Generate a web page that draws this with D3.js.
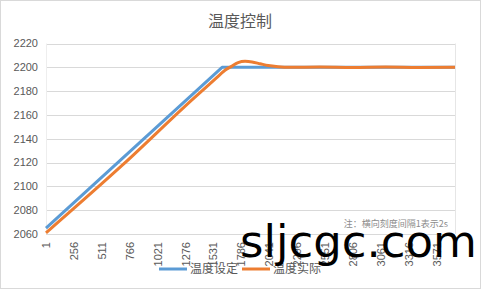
<!DOCTYPE html>
<html>
<head>
<meta charset="utf-8">
<script src="https://cdn.jsdelivr.net/npm/d3@7"></script>
<style>
  body { margin: 0; background: #fff; }
  svg text { font-family: "Liberation Sans", Arial, sans-serif; }
  .cjk { font-family: "Noto Sans CJK SC", sans-serif; }
</style>
</head>
<body>
<div id="chart"></div>
<script>
// ---------------------------------------------
// data
// ---------------------------------------------
let title = "温度控制",
    seriesNames = ["温度设定", "温度实际"],
    note = "注：横向刻度间隔1表示2s",
    watermark = "sljcgc.com";

let nPoints = 3734;
let xTicks = [1, 256, 511, 766, 1021, 1276, 1531, 1786, 2041, 2296, 2551, 2806, 3061, 3316, 3571];
let yTicks = [2060, 2080, 2100, 2120, 2140, 2160, 2180, 2200, 2220];

// set point (blue)
let setIdx = [1, 1608, 3734];
let setVal = [2065, 2200, 2200];

// actual (orange)
let actIdx = [1, 700, 1361, 1544, 1635, 1699, 1754, 1818, 1882, 1955, 2028, 2119, 2229, 2500, 2800, 3100, 3400, 3734];
let actVal = [2061, 2118, 2175, 2190, 2197.5, 2201, 2204, 2205, 2204.5, 2203, 2201.5, 2200.5, 2200, 2200.2, 2199.9, 2200.2, 2199.9, 2200];

// ---------------------------------------------
// layout
// ---------------------------------------------
let width = 481, height = 289;
let plot = {left: 46, right: 455, top: 43.5, bottom: 234};
let colors = ["#5B9BD5", "#ED7D31"];

let svg = d3.select("#chart").append("svg")
    .attr("width", width)
    .attr("height", height);

// outer border
svg.append("rect")
    .attr("x", 0.5).attr("y", 0.5)
    .attr("width", width - 1).attr("height", height - 1)
    .attr("fill", "#fff")
    .attr("stroke", "#d9d9d9");

let x = d3.scaleLinear().domain([1, nPoints]).range([plot.left, plot.right]);
let y = d3.scaleLinear().domain([2060, 2220]).range([plot.bottom, plot.top]);

// title
svg.append("text")
    .attr("class", "cjk")
    .attr("x", 240).attr("y", 21)
    .attr("dy", "0.35em")
    .attr("text-anchor", "middle")
    .attr("font-size", 16)
    .attr("fill", "#595959")
    .text(title);

// gridlines
svg.append("g")
  .selectAll("line")
    .data(yTicks)
  .enter().append("line")
    .attr("x1", plot.left).attr("x2", plot.right)
    .attr("y1", d => Math.round(y(d)) + 0.5)
    .attr("y2", d => Math.round(y(d)) + 0.5)
    .attr("stroke", "#d9d9d9");

// plot area sides
svg.append("line")
    .attr("x1", plot.right + 0.5).attr("x2", plot.right + 0.5)
    .attr("y1", plot.top).attr("y2", plot.bottom)
    .attr("stroke", "#e6e6e6");
svg.append("line")
    .attr("x1", plot.left + 0.5).attr("x2", plot.left + 0.5)
    .attr("y1", plot.top).attr("y2", plot.bottom)
    .attr("stroke", "#eeeeee");

// y labels
svg.append("g")
  .selectAll("text")
    .data(yTicks)
  .enter().append("text")
    .attr("x", 38)
    .attr("y", d => y(d))
    .attr("dy", "0.35em")
    .attr("text-anchor", "end")
    .attr("font-size", 11)
    .attr("fill", "#595959")
    .text(d => d);

// x labels, rotated
svg.append("g")
  .selectAll("text")
    .data(xTicks)
  .enter().append("text")
    .attr("transform", d => "translate(" + x(d) + ",242) rotate(-90)")
    .attr("dy", "0.35em")
    .attr("text-anchor", "end")
    .attr("font-size", 11)
    .attr("fill", "#595959")
    .text(d => d);

// note
svg.append("text")
    .attr("class", "cjk")
    .attr("x", 448).attr("y", 224)
    .attr("dy", "0.35em")
    .attr("text-anchor", "end")
    .attr("font-size", 9)
    .attr("fill", "#8c8c8c")
    .text(note);

// lines: set point straight, actual smoothed
let curves = [d3.curveLinear, d3.curveMonotoneX];

let series = [
  d3.zip(setIdx, setVal),
  d3.zip(actIdx, actVal)
];

svg.append("g")
  .selectAll("path")
    .data(series)
  .enter().append("path")
    .attr("d", (d, i) => d3.line()
        .x(p => x(p[0]))
        .y(p => y(p[1]))
        .curve(curves[i])(d))
    .attr("fill", "none")
    .attr("stroke", (d, i) => colors[i])
    .attr("stroke-width", 3)
    .attr("stroke-linejoin", "round");

// legend
let legendX = [159, 242];
let legend = svg.append("g")
  .selectAll("g")
    .data(seriesNames)
  .enter().append("g")
    .attr("transform", (d, i) => "translate(" + legendX[i] + ",269)");
legend.append("line")
    .attr("x1", 0).attr("x2", 28)
    .attr("stroke", (d, i) => colors[i])
    .attr("stroke-width", 3);
legend.append("text")
    .attr("class", "cjk")
    .attr("x", 31)
    .attr("dy", "0.35em")
    .attr("font-size", 12)
    .attr("fill", "#595959")
    .text(d => d);

// watermark
svg.append("text")
    .attr("x", 240).attr("y", 257)
    .attr("font-size", 45)
    .style("font-family", "'DejaVu Sans', sans-serif")
    .attr("fill", "#000")
    .text(watermark);
</script>
</body>
</html>
